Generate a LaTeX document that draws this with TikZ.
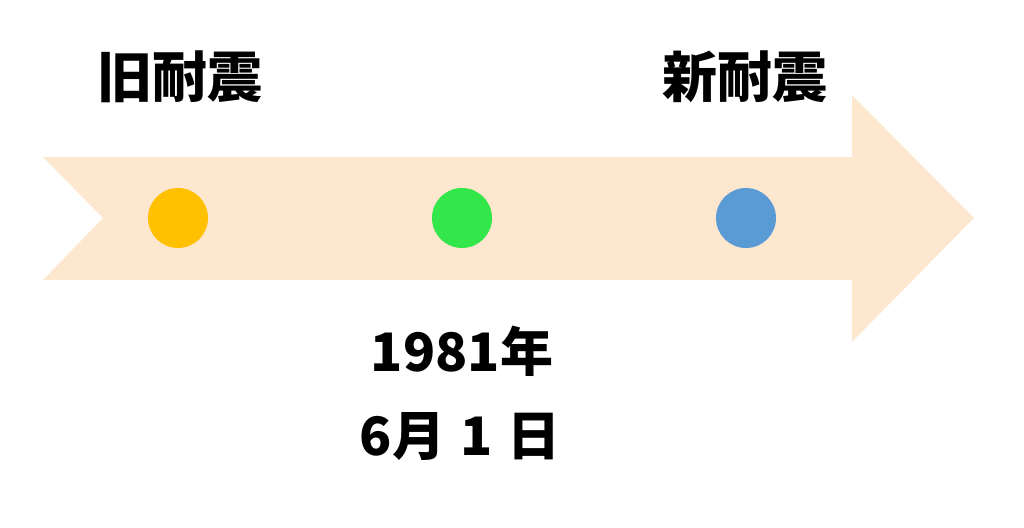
\documentclass[tikz,border=0pt]{standalone}
\usepackage{fontspec}
\newfontfamily\cjk{Noto Sans CJK JP}
\usetikzlibrary{positioning}

\definecolor{peach}{HTML}{FDE8CF}
\definecolor{oldcol}{HTML}{FFC000}
\definecolor{midcol}{HTML}{33E649}
\definecolor{newcol}{HTML}{5B9BD5}

\tikzset{
  dot/.style={circle, minimum size=60pt, inner sep=0pt},
  label/.style={font=\cjk\bfseries\fontsize{55}{62}\selectfont, inner sep=0pt},
  datelabel/.style={font=\cjk\bfseries\fontsize{53}{60}\selectfont, inner sep=0pt}
}

\begin{document}
\begin{tikzpicture}[x=1pt, y=-1pt]
  \useasboundingbox (0,0) rectangle (1024,527);
  % timeline arrow
  \fill[peach] (43,157) -- (852,157) -- (852,95) -- (974,218) -- (852,342)
    -- (852,280) -- (43,280) -- (103,218) -- cycle;

  \node (old) [dot, fill=oldcol] at (178,218) {};
  \node (mid) [dot, fill=midcol] at (462,218) {};
  \node (new) [dot, fill=newcol] at (746,218) {};

  \node (oldlabel) [label] at (180,77) {旧耐震};
  \node (newlabel) [label] at (745,77) {新耐震};
  \node (year) [datelabel] at (462,351) {1981年};
  \node (day) [datelabel] at (460,437) {6月\hspace{16pt}1\hspace{14pt}日};
\end{tikzpicture}
\end{document}
